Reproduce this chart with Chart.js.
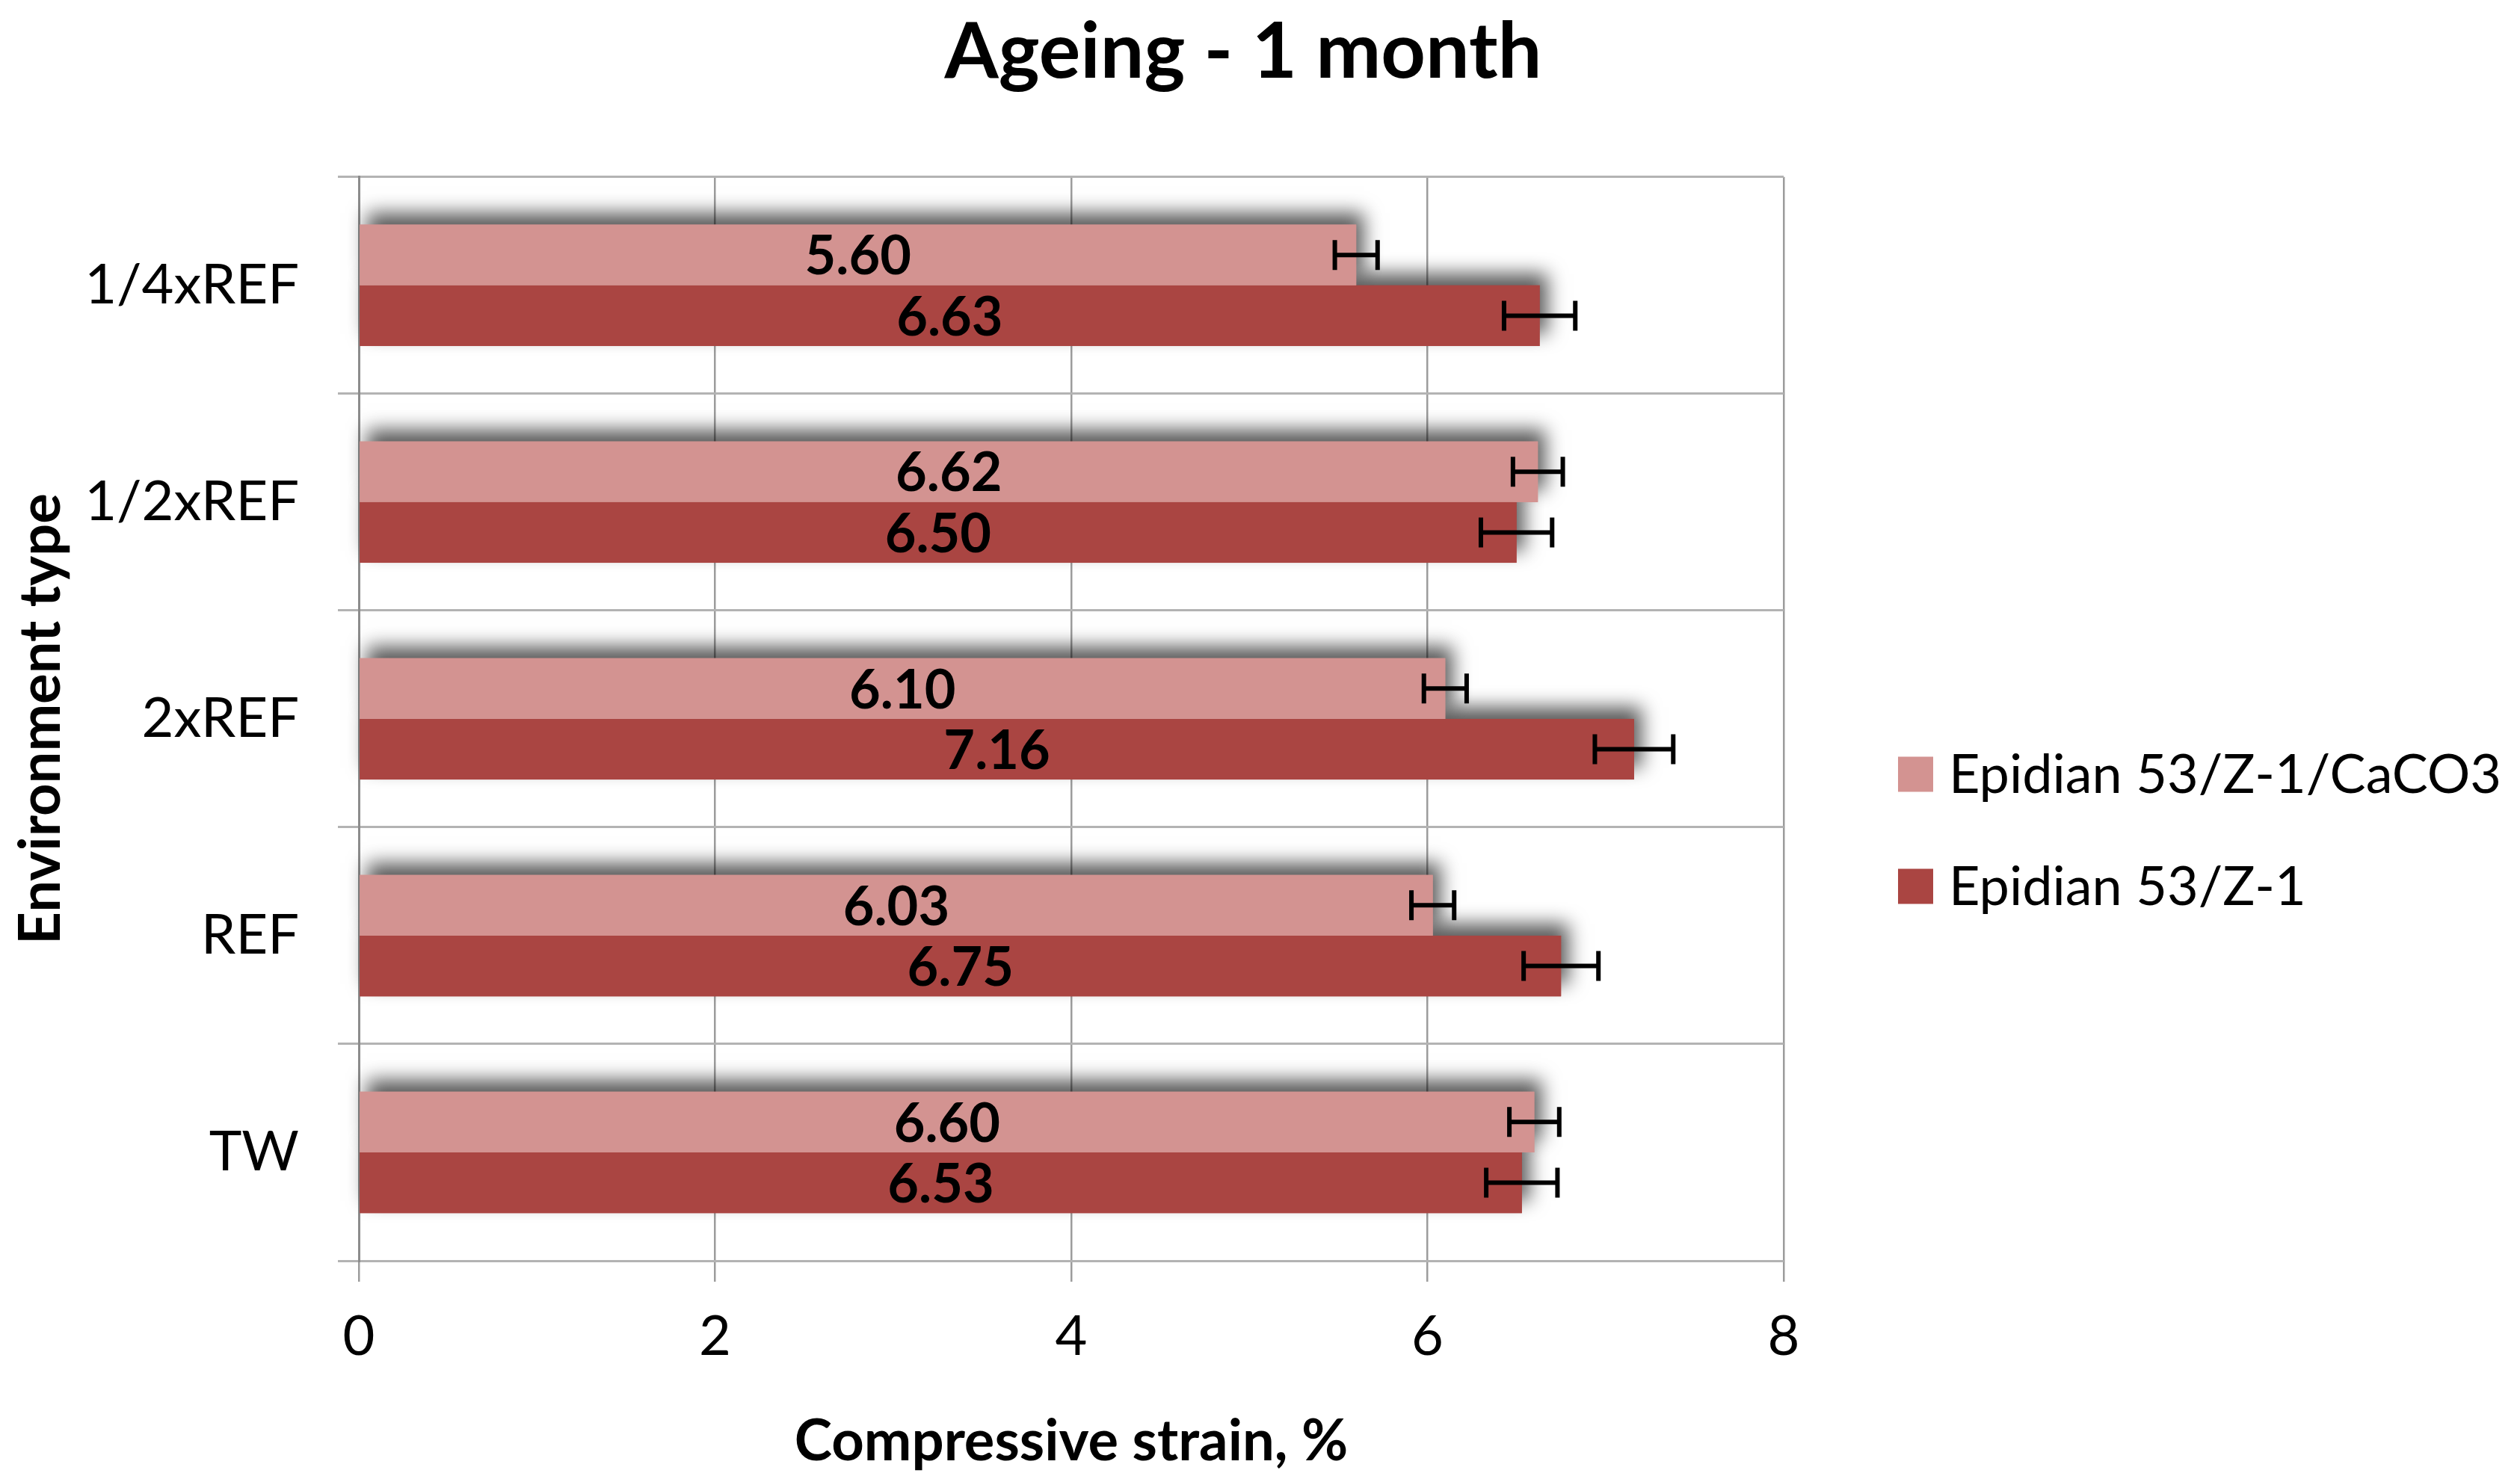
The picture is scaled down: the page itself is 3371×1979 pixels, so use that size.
<!DOCTYPE html>
<html>
<head>
<meta charset="utf-8">
<script src="https://cdn.jsdelivr.net/npm/chart.js@4.4.0/dist/chart.umd.min.js"></script>
<style>
html, body { margin: 0; padding: 0; background: #fff; }
#wrap { width: 3371px; height: 1979px; }
</style>
</head>
<body>
<div id="wrap"><canvas id="chart"></canvas></div>
<script>
// data
const categories = ['1/4xREF', '1/2xREF', '2xREF', 'REF', 'TW'];
const seriesNames = ['Epidian 53/Z-1/CaCO3', 'Epidian 53/Z-1'];
const caco3Values = [5.60, 6.62, 6.10, 6.03, 6.60];
const caco3Errors = [0.12, 0.14, 0.12, 0.12, 0.14];
const plainValues = [6.63, 6.50, 7.16, 6.75, 6.53];
const plainErrors = [0.20, 0.20, 0.22, 0.21, 0.20];
const xTicks = [0, 2, 4, 6, 8];

const FONT = 'Lato, "Open Sans", sans-serif';

// soft drop shadow behind the bars (drawn first, bars go on top)
const barShadow = {
  id: 'barShadow',
  beforeDatasetsDraw(chart) {
    const ctx = chart.ctx;
    ctx.save();
    ctx.shadowColor = 'rgba(0, 0, 0, 0.65)';
    ctx.shadowBlur = 24;
    ctx.shadowOffsetX = 10;
    ctx.shadowOffsetY = -16;
    for (let i = chart.data.datasets.length - 1; i >= 0; i--) {
      chart.getDatasetMeta(i).data.forEach(bar => {
        const p = bar.getProps(['x', 'y', 'base', 'height'], true);
        ctx.fillStyle = bar.options.backgroundColor;
        ctx.fillRect(p.base, p.y - p.height / 2, p.x - p.base, p.height);
      });
    }
    ctx.restore();
  }
};

// value labels inside the bars + error bars
const labelsAndErrors = {
  id: 'labelsAndErrors',
  afterDatasetsDraw(chart) {
    const ctx = chart.ctx;
    const xs = chart.scales.x;
    ctx.save();
    chart.data.datasets.forEach((ds, i) => {
      chart.getDatasetMeta(i).data.forEach((bar, j) => {
        const p = bar.getProps(['x', 'y', 'base'], true);
        ctx.fillStyle = '#000';
        ctx.font = 'bold 72px ' + FONT;
        ctx.textAlign = 'center';
        ctx.textBaseline = 'middle';
        ctx.fillText(ds.data[j].toFixed(2), (p.base + p.x) / 2, p.y + 3);

        const lo = xs.getPixelForValue(ds.data[j] - ds.errors[j]);
        const hi = xs.getPixelForValue(ds.data[j] + ds.errors[j]);
        ctx.strokeStyle = '#000';
        ctx.lineWidth = 6;
        ctx.beginPath();
        ctx.moveTo(lo, p.y); ctx.lineTo(hi, p.y);
        ctx.moveTo(lo, p.y - 20); ctx.lineTo(lo, p.y + 20);
        ctx.moveTo(hi, p.y - 20); ctx.lineTo(hi, p.y + 20);
        ctx.stroke();
      });
    });
    ctx.restore();
  }
};

// legend on the right side
const sideLegend = {
  id: 'sideLegend',
  afterDraw(chart) {
    const ctx = chart.ctx;
    const x = chart.chartArea.right + 153;
    const box = 47;
    ctx.save();
    ctx.font = '72px ' + FONT;
    ctx.textAlign = 'left';
    ctx.textBaseline = 'middle';
    chart.data.datasets.forEach((ds, i) => {
      const cy = 1036 + i * 150;
      ctx.fillStyle = ds.backgroundColor;
      ctx.fillRect(x, cy - box / 2, box, box);
      ctx.fillStyle = '#000';
      ctx.fillText(ds.label, x + box + 21, cy + 2);
    });
    ctx.restore();
  }
};

new Chart(document.getElementById('chart'), {
  type: 'bar',
  data: {
    labels: categories,
    datasets: [{
      label: seriesNames[0],
      data: caco3Values,
      errors: caco3Errors,
      backgroundColor: '#D39391'
    }, {
      label: seriesNames[1],
      data: plainValues,
      errors: plainErrors,
      backgroundColor: '#AA4542'
    }]
  },
  options: {
    indexAxis: 'y',
    responsive: true,
    maintainAspectRatio: false,
    devicePixelRatio: 1,
    animation: false,
    categoryPercentage: 0.56,
    barPercentage: 1,
    layout: { padding: { right: 45 } },
    plugins: {
      legend: { display: false },
      tooltip: { enabled: false },
      title: {
        display: true,
        text: 'Ageing - 1 month',
        color: '#000',
        font: { family: FONT, size: 104, weight: 'bold' },
        padding: { top: 8, bottom: 104 }
      }
    },
    scales: {
      x: {
        min: 0,
        max: 8,
        afterBuildTicks: s => { s.ticks = xTicks.map(v => ({ value: v })); },
        afterFit: s => { s.height = 292; },
        grid: { color: '#9c9c9c', lineWidth: 2.5, tickLength: 28 },
        border: { display: false },
        ticks: { color: '#000', padding: 30, font: { family: FONT, size: 74 } },
        title: {
          display: true,
          text: 'Compressive strain, %',
          color: '#000',
          font: { family: FONT, size: 76, weight: 'bold' },
          padding: { top: 10 }
        }
      },
      y: {
        afterFit: s => { s.width = 480; },
        grid: { color: '#b3b3b3', lineWidth: 3, tickLength: 28 },
        border: { color: '#8c8c8c', width: 3 },
        ticks: { color: '#000', padding: 52, font: { family: FONT, size: 74 } },
        title: {
          display: true,
          text: 'Environment type',
          color: '#000',
          font: { family: FONT, size: 76, weight: 'bold' },
          padding: { top: 10, bottom: 0 }
        }
      },
      spacer: {
        type: 'linear',
        position: 'right',
        afterFit: s => { s.width = 940; },
        grid: { display: false },
        border: { display: false },
        ticks: { display: false }
      }
    }
  },
  plugins: [barShadow, labelsAndErrors, sideLegend]
});
</script>
</body>
</html>
